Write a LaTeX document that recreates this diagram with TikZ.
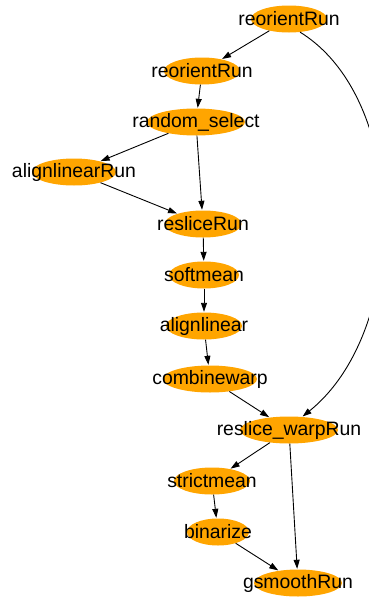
\documentclass[tikz,border=0pt]{standalone}
\usepackage{fontspec}
\setmainfont{Liberation Sans}
\usetikzlibrary{shapes.geometric,arrows.meta}
\definecolor{gvorange}{HTML}{FFA500}
\begin{document}
\begin{tikzpicture}[x=1pt,y=-1pt,
  nd/.style={ellipse, fill=gvorange, draw=none, inner sep=0pt, minimum height=27pt,
    label={[font=\fontsize{19.4}{22}\selectfont, inner sep=0pt, text=black]center:#1}},
  edge/.style={draw=black, line width=0.9pt, -{Triangle[length=9pt,width=6pt]}, shorten >=0.5pt}]
\useasboundingbox[fill=white] (0,0) rectangle (368,597);
\node[nd=reorientRun, minimum width=76pt] (r1) at (289,19) {};
\node[nd=reorientRun, minimum width=76pt] (r2) at (202,71) {};
\node[nd=random\_select, minimum width=98pt] (rs) at (196,122) {};
\node[nd=alignlinearRun, minimum width=84pt] (al) at (74,172) {};
\node[nd=resliceRun, minimum width=77pt] (rr) at (203,224) {};
\node[nd=softmean, minimum width=70pt] (sm) at (204,275) {};
\node[nd=alignlinear, minimum width=76pt] (ali) at (204,326) {};
\node[nd=combinewarp, minimum width=94pt] (cw) at (210,379) {};
\node[nd=reslice\_warpRun, minimum width=98pt] (rw) at (289,430) {};
\node[nd=strictmean, minimum width=76pt] (st) at (212,481) {};
\node[nd=binarize, minimum width=62pt] (bi) at (218,532) {};
\node[nd=gsmoothRun, minimum width=88pt] (gs) at (298,583) {};
\draw[edge] (r1) -- (r2);
\draw[edge] (r1.-50) .. controls (410,100) and (410,330) .. (rw.45);
\draw[edge] (r2) -- (rs);
\draw[edge] (rs) -- (al);
\draw[edge] (rs) -- (rr);
\draw[edge] (al) -- (rr);
\draw[edge] (rr) -- (sm);
\draw[edge] (sm) -- (ali);
\draw[edge] (ali) -- (cw);
\draw[edge] (cw) -- (rw);
\draw[edge] (rw) -- (st);
\draw[edge] (rw) -- (gs);
\draw[edge] (st) -- (bi);
\draw[edge] (bi) -- (gs);
\end{tikzpicture}
\end{document}
